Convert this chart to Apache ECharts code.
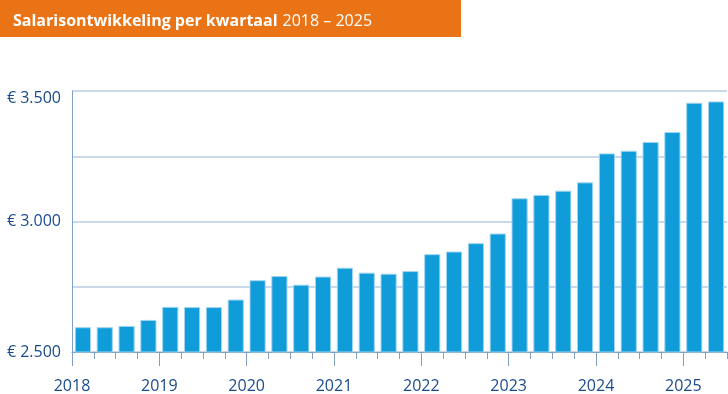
<!DOCTYPE html>
<html><head><meta charset="utf-8">
<script src="https://cdn.jsdelivr.net/npm/echarts@6/dist/echarts.min.js"></script>
<style>html,body{margin:0;padding:0;background:#fff}#c{width:728px;height:394px}</style>
</head><body><div id="c"></div>
<script>
const quarters = [
 '2018Q1','2018Q2','2018Q3','2018Q4','2019Q1','2019Q2','2019Q3','2019Q4',
 '2020Q1','2020Q2','2020Q3','2020Q4','2021Q1','2021Q2','2021Q3','2021Q4',
 '2022Q1','2022Q2','2022Q3','2022Q4','2023Q1','2023Q2','2023Q3','2023Q4',
 '2024Q1','2024Q2','2024Q3','2024Q4','2025Q1','2025Q2'];
const salaris = [
 2595,2595,2600,2623,2673,2672,2672,2701,
 2775,2791,2758,2789,2823,2804,2800,2810,
 2875,2885,2917,2954,3089,3102,3118,3150,
 3261,3271,3305,3343,3455,3460];
const years = ['2018','2019','2020','2021','2022','2023','2024','2025'];
const yTickLabels = {2500:'€ 2.500', 3000:'€ 3.000', 3500:'€ 3.500'};
const titleBold = 'Salarisontwikkeling per kwartaal';
const titleRest = '2018 – 2025';

const font = '"Open Sans", "Noto Sans", sans-serif';
const axisBlue = '#7f9fc4';
const textBlue = '#1a4b8c';
const chart = echarts.init(document.getElementById('c'), null, {renderer:'canvas'});
chart.setOption({
  animation:false,
  graphic:[{type:'rect', left:0, top:0, shape:{width:461, height:37}, style:{fill:'#ea7316'}}],
  title:{
    text:'{b|'+titleBold+'} {r|'+titleRest+'}',
    left:8, top:7,
    textStyle:{rich:{
      b:{fontFamily:font, fontWeight:'bold', fontSize:16, color:'#fff'},
      r:{fontFamily:font, fontWeight:'normal', fontSize:16, color:'#fff'}
    }}
  },
  grid:{left:72, right:1, top:91, bottom:41, containLabel:false},
  xAxis:[{
    type:'category', data:quarters, boundaryGap:true,
    axisLine:{show:true, lineStyle:{color:axisBlue, width:1}},
    axisTick:{show:true, interval:0, alignWithLabel:false, length:7, lineStyle:{color:axisBlue}},
    axisLabel:{show:false}
  },{
    type:'value', min:0, max:quarters.length, position:'bottom',
    axisLine:{show:false},
    splitLine:{show:false},
    axisTick:{show:true, length:14, customValues:years.map((y,i)=>i*4), lineStyle:{color:axisBlue}},
    axisLabel:{show:true, customValues:years.map((y,i)=>i*4), formatter:v=>years[v/4],
      color:textBlue, fontFamily:font, fontSize:16, margin:26}
  }],
  yAxis:{
    type:'value', min:2500, max:3500, interval:250,
    axisLine:{show:true, lineStyle:{color:axisBlue}},
    axisTick:{show:false},
    splitLine:{show:true, lineStyle:{color:'#c9d9ea', width:2}},
    axisLabel:{
      formatter:v=>{ const t = yTickLabels[v]||''; return v===3500 ? '{top|'+t+'}' : t; },
      rich:{top:{padding:[14,0,0,0], color:textBlue, fontFamily:font, fontSize:16}},
      color:textBlue, fontFamily:font, fontSize:16, margin:11}
  },
  series:[{
    type:'bar', data:salaris, xAxisIndex:0, barCategoryGap:'26%',
    itemStyle:{color:'#0f9cd9', borderColor:'#9fd5f0', borderWidth:1}
  }]
});
</script></body></html>
